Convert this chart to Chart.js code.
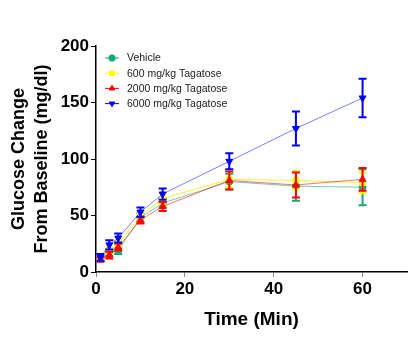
<!DOCTYPE html>
<html><head><meta charset="utf-8">
<script src="https://cdn.jsdelivr.net/npm/chart.js@4.4.1/dist/chart.umd.min.js"></script>
<style>html,body{margin:0;padding:0;background:#fff}#w{width:414px;height:347px}</style>
</head><body><div id="w"><canvas id="c" width="414" height="347"></canvas></div>
<script>
const times = [1, 3, 5, 10, 15, 30, 45, 60];
const seriesLabels = ["Vehicle", "600 mg/kg Tagatose", "2000 mg/kg Tagatose", "6000 mg/kg Tagatose"];
const vehicleMean = [12, 17, 19, 48, 61, 80, 76, 75];
const vehicleErr  = [2, 3, 3, 4, 4, 7, 13, 16];
const t600Mean    = [12, 19, 25, 50, 65, 82, 81, 79];
const t600Err     = [2, 3, 3, 4, 5, 7, 8, 9];
const t2000Mean   = [11, 15, 22, 46, 58, 81, 77, 82];
const t2000Err    = [2, 3, 3, 3, 4, 8, 11, 10];
const t6000Mean   = [13, 24, 30, 53, 69, 98, 127, 154];
const t6000Err    = [3, 4, 4, 4, 5, 7, 15, 17];
const xTicks = [0, 20, 40, 60];
const yTicks = [0, 50, 100, 150, 200];

const colors = ["#16a878", "#ffff00", "#ff0000", "#0000ff"];
const lineColors = ["rgba(22,168,120,0.6)", "rgba(255,235,0,0.8)", "rgba(255,0,0,0.55)", "rgba(0,0,255,0.5)"];
const styles = ["circle", "rect", "triangle", "triangle"];
const rots = [0, 0, 0, 180];
const radii = [3.5, 4, 4, 4];
const means = [vehicleMean, t600Mean, t2000Mean, t6000Mean];
const errs = [vehicleErr, t600Err, t2000Err, t6000Err];

const datasets = means.map((m, i) => ({
  label: seriesLabels[i],
  data: times.map((t, j) => ({x: t, y: m[j]})),
  errs: errs[i],
  borderColor: lineColors[i],
  borderWidth: 1,
  backgroundColor: colors[i],
  pointBackgroundColor: colors[i],
  pointBorderColor: colors[i],
  pointBorderWidth: 1,
  pointStyle: styles[i],
  pointRotation: rots[i],
  pointRadius: radii[i],
  tension: 0,
  order: 4 - i
}));

const errPlugin = {
  id: 'errbars',
  afterDatasetDraw(chart, args) {
    const ds = chart.data.datasets[args.index];
    const xs = chart.scales.x, ys = chart.scales.y;
    const ctx = chart.ctx;
    ctx.save();
    ctx.strokeStyle = colors[args.index];
    ctx.lineWidth = 2;
    ds.data.forEach((p, j) => {
      const e = ds.errs[j];
      const px = xs.getPixelForValue(p.x);
      const top = ys.getPixelForValue(p.y + e);
      const bot = ys.getPixelForValue(p.y - e);
      ctx.beginPath();
      ctx.moveTo(px, top); ctx.lineTo(px, bot);
      ctx.moveTo(px - 4, top); ctx.lineTo(px + 4, top);
      ctx.moveTo(px - 4, bot); ctx.lineTo(px + 4, bot);
      ctx.stroke();
    });
    ctx.restore();
  }
};

const legendPlugin = {
  id: 'customLegend',
  afterDraw(chart) {
    const ctx = chart.ctx;
    ctx.save();
    ctx.font = "10.5px 'Liberation Sans', Arial, sans-serif";
    ctx.textBaseline = 'middle';
    chart.data.datasets.forEach((ds, i) => {
      const y = 58 + i * 15.2;
      ctx.strokeStyle = colors[i];
      ctx.lineWidth = 1;
      ctx.beginPath(); ctx.moveTo(105, y); ctx.lineTo(119, y); ctx.stroke();
      ctx.fillStyle = colors[i];
      ctx.strokeStyle = colors[i];
      Chart.helpers.drawPoint(ctx, {pointStyle: styles[i], rotation: rots[i], radius: 3.2, borderWidth: 1}, 112, y);
      ctx.fillStyle = '#222';
      ctx.fillText(ds.label, 127, y + 0.5);
    });
    ctx.restore();
  }
};

new Chart(document.getElementById('c'), {
  type: 'line',
  data: { datasets },
  options: {
    responsive: false,
    animation: false,
    layout: { padding: { left: 0, right: 7, top: 46, bottom: 0 } },
    plugins: { legend: { display: false }, tooltip: { enabled: false } },
    scales: {
      x: {
        type: 'linear', min: 0, max: 70,
        afterBuildTicks(s) { s.ticks = xTicks.map(v => ({value: v})); },
        afterFit(s) { s.height = 75; },
        border: { display: true, color: '#000', width: 1.5 },
        grid: { display: true, drawOnChartArea: false, tickLength: 5, color: '#888', lineWidth: 1 },
        ticks: { color: '#000', padding: 2, maxRotation: 0,
          font: { family: "'Liberation Sans', Arial, sans-serif", size: 17, weight: 'bold' } },
        title: { display: true, text: 'Time (Min)', color: '#000', padding: { top: 0, bottom: 16 },
          font: { family: "'Liberation Sans', Arial, sans-serif", size: 19, weight: 'bold' } }
      },
      y: {
        type: 'linear', min: 0, max: 200,
        afterBuildTicks(s) { s.ticks = yTicks.map(v => ({value: v})); },
        afterFit(s) { s.width = 96; },
        border: { display: true, color: '#000', width: 1.5 },
        grid: { display: true, drawOnChartArea: false, tickLength: 5, color: '#000', lineWidth: 1 },
        ticks: { color: '#000', padding: 2,
          font: { family: "'Liberation Sans', Arial, sans-serif", size: 17, weight: 'bold' } },
        title: { display: true, text: ['Glucose Change', 'From Baseline (mg/dl)'], color: '#000',
          padding: { top: 7, bottom: 0 },
          font: { family: "'Liberation Sans', Arial, sans-serif", size: 18, weight: 'bold', lineHeight: 1.3 } }
      }
    }
  },
  plugins: [errPlugin, legendPlugin]
});
</script>
</body></html>
